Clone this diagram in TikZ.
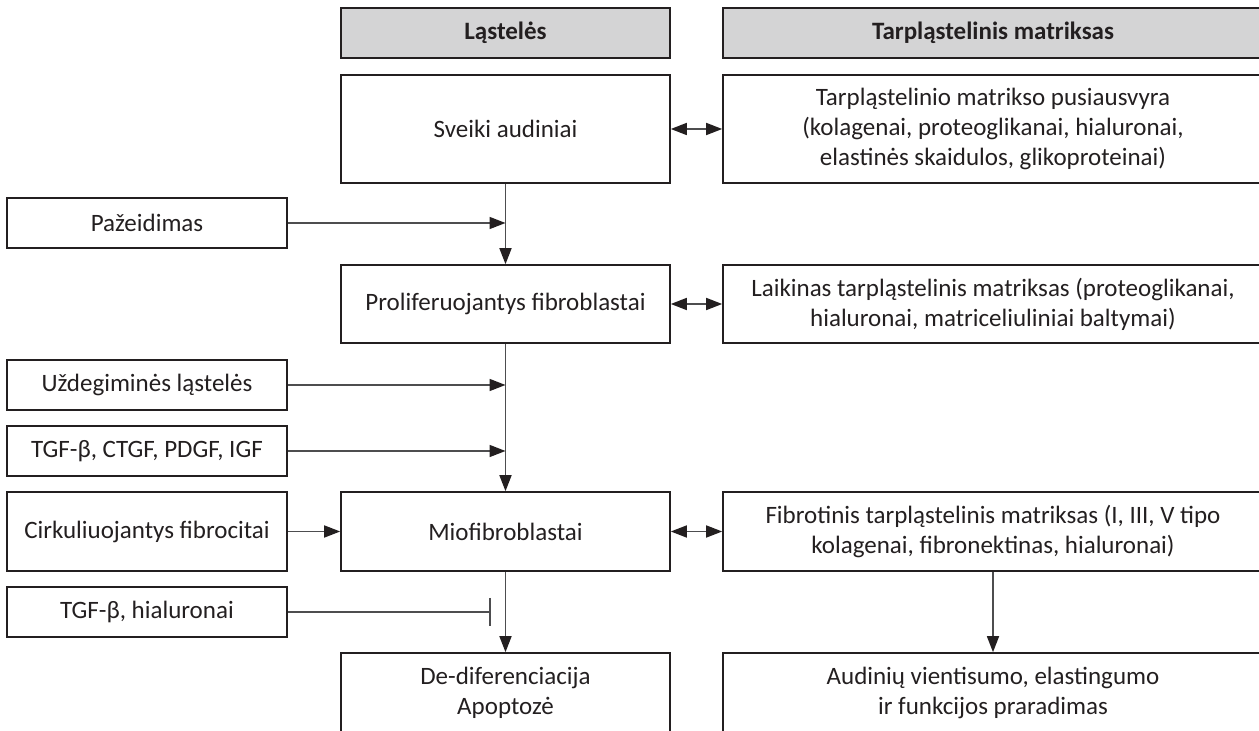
\documentclass[tikz,border=0pt]{standalone}
\usepackage{fontspec}
\setmainfont{Carlito}
\usetikzlibrary{arrows.meta}
\definecolor{ink}{HTML}{231F20}
\definecolor{linegray}{HTML}{4D4D4F}
\definecolor{hdrgray}{HTML}{D4D4D5}
\tikzset{
  box/.style={draw=ink, line width=0.8pt, inner sep=0pt, align=center, text=ink,
    font=\fontsize{12.5}{15}\selectfont},
  colL/.style={box, minimum width=164.5pt},
  colR/.style={box, minimum width=270pt},
  src/.style={box, minimum width=140pt},
  hdr/.style={fill=hdrgray, minimum height=25pt, font=\fontsize{12.5}{15}\selectfont\bfseries},
  flow/.style={draw=linegray, line width=0.8pt, -{Triangle[length=8pt, width=6pt, color=ink]}},
  both/.style={draw=linegray, line width=0.8pt,
    {Triangle[length=8pt, width=6pt, color=ink]}-{Triangle[length=8pt, width=6pt, color=ink]}},
  block/.style={draw=linegray, line width=0.8pt, -{Bar[width=14pt, line width=0.8pt]}},
}

\begin{document}
\begin{tikzpicture}[x=0.5pt, y=-0.5pt]
  \useasboundingbox (0,0) rectangle (1259,731);

  % Column headers
  \node[colL, hdr] (hcell) at (505.5,33) {Ląstelės};
  \node[colR, hdr] (hecm) at (993,33) {Tarpląstelinis matriksas};

  % Main chain, cells
  \node[colL, minimum height=54pt] (healthy) at (505.5,129) {Sveiki audiniai};
  \node[colL, minimum height=39pt] (prolif) at (505.5,304) {Proliferuojantys fibroblastai};
  \node[colL, minimum height=39.5pt] (myofib) at (505.5,531.5) {Miofibroblastai};
  \node[colL, minimum height=40pt] (apopt) at (505.5,693) {De-diferenciacija\\Apoptozė};

  % Main chain, matrix
  \node[colR, minimum height=54pt] (balance) at (993,129)
    {Tarpląstelinio matrikso pusiausvyra\\(kolagenai, proteoglikanai, hialuronai,\\elastinės skaidulos, glikoproteinai)};
  \node[colR, minimum height=39pt] (provis) at (993,304)
    {Laikinas tarpląstelinis matriksas (proteoglikanai,\\hialuronai, matriceliuliniai baltymai)};
  \node[colR, minimum height=39.5pt] (fibrotic) at (993,531.5)
    {Fibrotinis tarpląstelinis matriksas (I, III, V tipo\\kolagenai, fibronektinas, hialuronai)};
  \node[colR, minimum height=40pt] (loss) at (993,693)
    {Audinių vientisumo, elastingumo\\ir funkcijos praradimas};

  % Inputs on the left
  \node[src, minimum height=25pt] (injury) at (147,223) {Pažeidimas};
  \node[src, minimum height=25pt] (inflam) at (147,385) {Uždegiminės ląstelės};
  \node[src, minimum height=25pt] (growth) at (147,451) {TGF-β, CTGF, PDGF, IGF};
  \node[src, minimum height=39.5pt] (fibrocyte) at (147,531.5) {Cirkuliuojantys fibrocitai};
  \node[src, minimum height=25pt] (inhib) at (147,612) {TGF-β, hialuronai};
  \coordinate (stop) at (491,612);

  % Connectors
  \foreach \a/\b in {healthy/balance, prolif/provis, myofib/fibrotic}
    \draw[both] (\a.east) -- (\b.west);
  \foreach \a/\b in {healthy/prolif, prolif/myofib, myofib/apopt, fibrotic/loss}
    \draw[flow] (\a.south) -- (\b.north);
  \foreach \s in {injury, inflam, growth}
    \draw[flow] (\s.east) -- (\s.east -| prolif.south);
  \draw[flow] (fibrocyte.east) -- (myofib.west);
  \draw[block] (inhib.east) -- (stop);
\end{tikzpicture}
\end{document}
